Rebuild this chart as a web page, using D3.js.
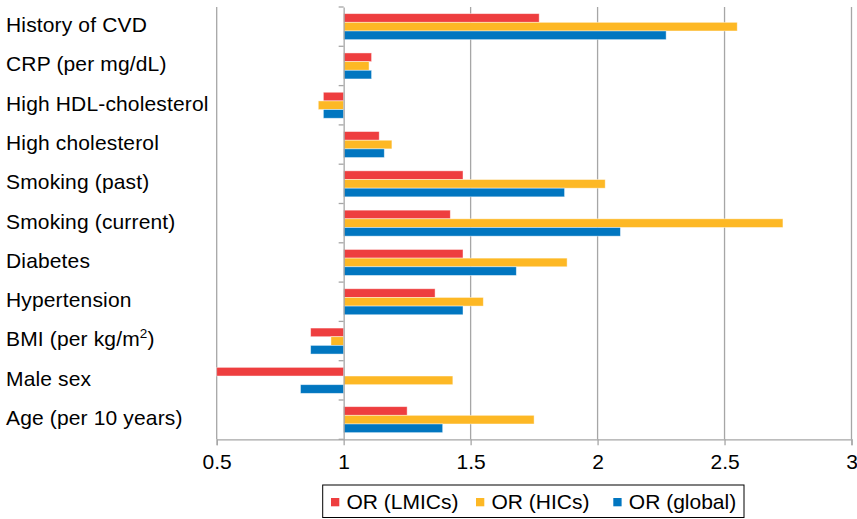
<!DOCTYPE html>
<html>
<head>
<meta charset="utf-8">
<script src="https://cdn.jsdelivr.net/npm/d3@7"></script>
<style>
  html, body { margin: 0; padding: 0; background: #fff; }
  svg { display: block; font-family: "Liberation Sans", Arial, Helvetica, sans-serif; }
</style>
</head>
<body>
<svg id="chart" width="857" height="519"></svg>
<script>
// Risk factors, top to bottom
const categories = [
  "History of CVD", "CRP (per mg/dL)", "High HDL-cholesterol", "High cholesterol",
  "Smoking (past)", "Smoking (current)", "Diabetes", "Hypertension",
  "BMI (per kg/m2)", "Male sex", "Age (per 10 years)"
];
// Odds ratios per series, same order as categories
const orLMICs  = [1.77, 1.11, 0.92, 1.14, 1.47, 1.42, 1.47, 1.36, 0.87, 0.50, 1.25];
const orHICs   = [2.55, 1.10, 0.90, 1.19, 2.03, 2.73, 1.88, 1.55, 0.95, 1.43, 1.75];
const orGlobal = [2.27, 1.11, 0.92, 1.16, 1.87, 2.09, 1.68, 1.47, 0.87, 0.83, 1.39];
const seriesNames = ["OR (LMICs)", "OR (HICs)", "OR (global)"];
const seriesColors = ["#ee3e3f", "#fdb825", "#0176c0"];
const xTicks = [0.5, 1, 1.5, 2, 2.5, 3];

const series = [orLMICs, orHICs, orGlobal];
const svg = d3.select("#chart");
const fontSize = "21px";

const plot = { left: 216.7, right: 851.5, top: 7, bottom: 439.3 };
const x = d3.scaleLinear().domain([0.5, 3]).range([plot.left, plot.right]);
const y = d3.scaleBand().domain(categories).range([plot.top, plot.bottom]).paddingInner(0).paddingOuter(0);
const groupPad = (y.bandwidth() - 26) / 2;
const ySub = d3.scaleBand().domain(seriesNames).range([groupPad, y.bandwidth() - groupPad]);

const gridColor = "#a6a6a6";

// vertical gridlines (except the crossing line at 1)
svg.append("g").selectAll("line")
  .data(xTicks.filter(t => t !== 1))
  .join("line")
  .attr("x1", d => x(d)).attr("x2", d => x(d))
  .attr("y1", plot.top).attr("y2", plot.bottom)
  .attr("stroke", gridColor).attr("stroke-width", 1.3);

// bottom value axis
const xAxis = d3.axisBottom(x).tickValues(xTicks).tickFormat(d3.format("")).tickSize(6).tickPadding(9);
const gx = svg.append("g").attr("transform", `translate(0,${plot.bottom})`).call(xAxis);
gx.select(".domain").attr("stroke", gridColor).attr("stroke-width", 1.3);
gx.selectAll(".tick line").attr("stroke", gridColor).attr("stroke-width", 1.3);
gx.selectAll(".tick text").attr("fill", "#000").attr("font-size", fontSize)
  .attr("font-family", "'Liberation Sans', Arial, sans-serif");

// bars
const groups = svg.append("g").selectAll("g")
  .data(categories)
  .join("g")
  .attr("transform", d => `translate(0,${y(d)})`);

groups.selectAll("rect")
  .data((c, i) => series.map((s, k) => ({ name: seriesNames[k], v: s[i], k })))
  .join("rect")
  .attr("x", d => Math.min(x(1), x(d.v)))
  .attr("width", d => Math.abs(x(d.v) - x(1)))
  .attr("y", d => ySub(d.name))
  .attr("height", ySub.bandwidth())
  .attr("fill", d => seriesColors[d.k])
  .attr("stroke", "#fff").attr("stroke-opacity", 0.55).attr("stroke-width", 0.8);

// category axis crossing at 1
const yAxis = d3.axisLeft(y).tickValues([]).tickSize(0);
const gy = svg.append("g").attr("transform", `translate(${x(1)},0)`).call(yAxis);
gy.select(".domain").attr("stroke", gridColor).attr("stroke-width", 1.3);
gy.selectAll("line.cat-tick")
  .data(d3.range(categories.length + 1))
  .join("line")
  .attr("class", "cat-tick")
  .attr("x1", -5).attr("x2", 0)
  .attr("y1", i => plot.top + i * y.step()).attr("y2", i => plot.top + i * y.step())
  .attr("stroke", gridColor).attr("stroke-width", 1.3);

// category labels at the left edge
const labels = svg.append("g").selectAll("text")
  .data(categories)
  .join("text")
  .attr("x", 6)
  .attr("y", d => y(d) + y.bandwidth() / 2 + 5.4)
  .attr("font-size", fontSize)
  .attr("letter-spacing", "0.15px")
  .attr("fill", "#000");
labels.each(function(d) {
  const t = d3.select(this);
  if (d.endsWith("m2)")) {
    t.append("tspan").text(d.slice(0, -2));
    t.append("tspan").text("2").attr("font-size", "13.5px").attr("dy", -8);
    t.append("tspan").text(")").attr("dy", 8);
  } else {
    t.text(d);
  }
});

// legend
const legend = svg.append("g");
legend.append("rect")
  .attr("x", 322.7).attr("y", 485).attr("width", 421.3).attr("height", 32.5)
  .attr("fill", "#fff").attr("stroke", "#000").attr("stroke-width", 1);
const legendX = [331, 476, 613.3];
const item = legend.selectAll("g.item")
  .data(seriesNames)
  .join("g").attr("class", "item")
  .attr("transform", (d, i) => `translate(${legendX[i]},0)`);
item.append("rect").attr("x", 0).attr("y", 498).attr("width", 8.3).attr("height", 8.3)
  .attr("fill", (d, i) => seriesColors[i]);
item.append("text").attr("x", 15.5).attr("y", 509.3).attr("font-size", fontSize).attr("fill", "#000")
  .text(d => d);
</script>
</body>
</html>
